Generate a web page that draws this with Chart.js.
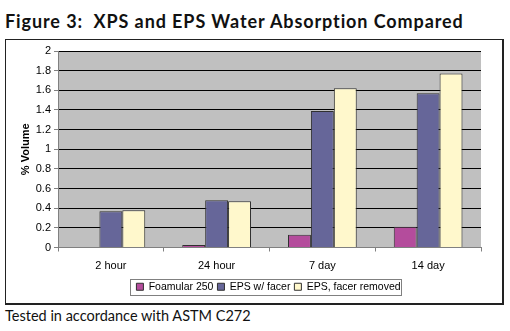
<!DOCTYPE html>
<html>
<head>
<meta charset="utf-8">
<script src="https://cdn.jsdelivr.net/npm/chart.js@4/dist/chart.umd.min.js"></script>
<style>
  body { margin: 0; background: #fff; width: 510px; height: 331px; position: relative; overflow: hidden; }
  #title { position: absolute; left: 5px; top: 10px; font: bold 18px Lato, sans-serif; letter-spacing: 0.9px; color: #111; white-space: pre; }
  #box { position: absolute; left: 5px; top: 39px; width: 496px; height: 263px; border: 1px solid #222; border-right-width: 2px; border-bottom-width: 2px; }
  #note { position: absolute; left: 5px; top: 307px; font: 14.5px Lato, sans-serif; color: #111; }
</style>
</head>
<body>
<div id="title">Figure 3:  XPS and EPS Water Absorption Compared</div>
<div id="box"><canvas id="chart" width="496" height="263"></canvas></div>
<div id="note">Tested in accordance with ASTM C272</div>
<script>
const categories = ["2 hour", "24 hour", "7 day", "14 day"];
const foamular = [0.005, 0.025, 0.13, 0.21];
const epsFacer = [0.37, 0.48, 1.39, 1.57];
const epsRemoved = [0.38, 0.47, 1.62, 1.77];

const plotBg = {
    id: "plotBg",
    beforeDraw(chart) {
        const a = chart.chartArea;
        const ctx = chart.ctx;
        ctx.save();
        ctx.fillStyle = "#c0c0c0";
        ctx.fillRect(a.left, a.top, a.right - a.left, a.bottom - a.top);
        ctx.restore();
    }
};

// legend sits centred under the plot, not the whole canvas; also gets a frame
const legendBox = {
    id: "legendBox",
    afterLayout(chart) {
        const lg = chart.legend;
        lg.left += 22;
        lg.right += 22;
    },
    afterDraw(chart) {
        const lg = chart.legend;
        const w = lg.lineWidths && lg.lineWidths[0];
        if (!w) return;
        const cx = (lg.left + lg.right) / 2;
        const l = Math.round(cx - w / 2) - 3.5;
        const t = Math.round(lg.top + lg.options.labels.padding) - 2.5;
        const ctx = chart.ctx;
        ctx.save();
        ctx.strokeStyle = "#808080";
        ctx.lineWidth = 1;
        ctx.strokeRect(l, t, Math.round(w) + 3, 16);
        ctx.restore();
    }
};

new Chart(document.getElementById("chart"), {
    type: "bar",
    data: {
        labels: categories,
        datasets: [{
            label: "Foamular 250",
            data: foamular,
            backgroundColor: "#b44c9c",
            borderColor: "#303030",
            borderWidth: 1
        }, {
            label: "EPS w/ facer",
            data: epsFacer,
            backgroundColor: "#666699",
            borderColor: "#303030",
            borderWidth: 1
        }, {
            label: "EPS, facer removed",
            data: epsRemoved,
            backgroundColor: "#fff8cc",
            borderColor: "#303030",
            borderWidth: 1
        }]
    },
    plugins: [plotBg, legendBox],
    options: {
        responsive: false,
        animation: false,
        datasets: {
            bar: { barPercentage: 1, categoryPercentage: 0.65 }
        },
        layout: { padding: { top: 11, right: 21, bottom: 1, left: 6 } },
        plugins: {
            tooltip: { enabled: false },
            legend: {
                position: "bottom",
                labels: {
                    boxWidth: 7,
                    boxHeight: 7,
                    padding: 4,
                    color: "#000",
                    font: { family: "Liberation Sans", size: 10.5 }
                }
            }
        },
        scales: {
            x: {
                grid: { offset: true, drawOnChartArea: false, drawTicks: true, tickLength: 4, color: "#808080" },
                border: { color: "#808080" },
                ticks: { color: "#000", font: { family: "Liberation Sans", size: 11 }, padding: 8 },
                afterFit(scale) { scale.height = 30; }
            },
            y: {
                min: 0,
                max: 2,
                ticks: {
                    stepSize: 0.2,
                    color: "#000",
                    font: { family: "Liberation Sans", size: 11 },
                    padding: 3,
                    callback: v => String(Math.round(v * 10) / 10)
                },
                grid: { color: "#000", tickColor: "#808080", tickLength: 4 },
                border: { color: "#808080" },
                title: { display: true, text: "% Volume", color: "#000", font: { family: "Liberation Sans", size: 11, weight: "bold" }, padding: { top: 7, bottom: 2 } },
                afterFit(scale) { scale.width = 46; }
            }
        }
    }
});
</script>
</body>
</html>
